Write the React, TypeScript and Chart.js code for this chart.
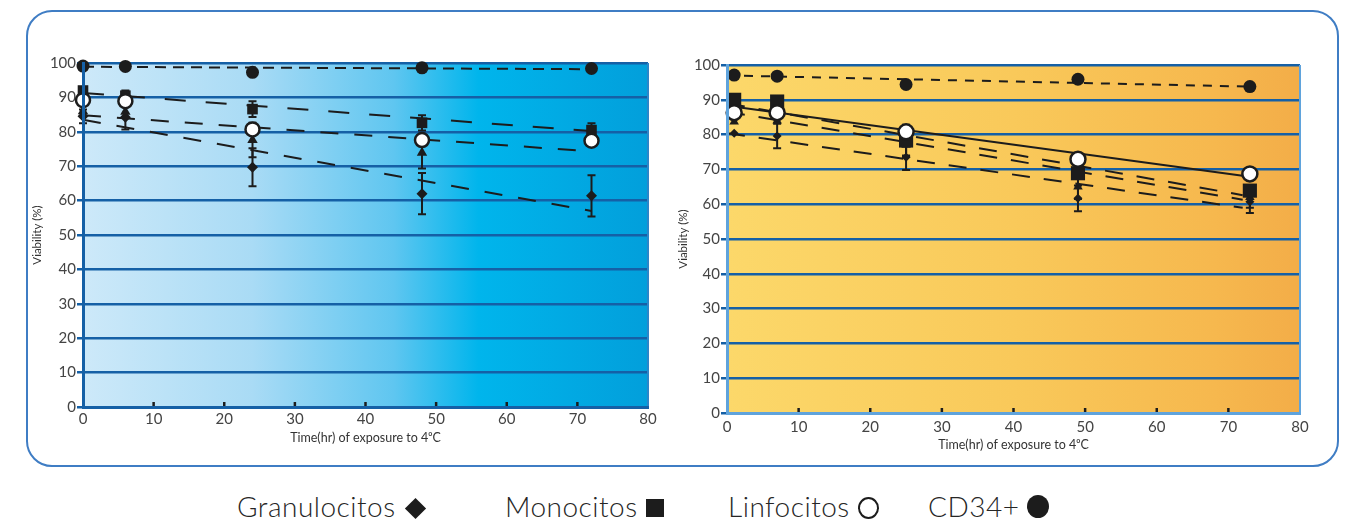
import React, { useEffect, useRef } from "react";
import { Chart, registerables } from "chart.js";
Chart.register(...registerables);

// ---------- DATA ----------
const xTicks = [0, 10, 20, 30, 40, 50, 60, 70, 80];
const yTicks = [0, 10, 20, 30, 40, 50, 60, 70, 80, 90, 100];
const xTitle = "Time(hr) of exposure to 4\u2070C";
const yTitle = "Viability (%)";

// Left panel
const leftHours = [0, 6, 24, 48, 72];
const leftGran = [84.5, 84.2, 69.7, 62, 61.4];
const leftGranErr = [2, 3.5, 5.5, 6, 6];
const leftMono = [92, 90.5, 86.6, 82.6, 80.5];
const leftMonoErr = [0, 1.5, 2.3, 2.2, 2];
const leftLinf = [89.2, 88.9, 80.7, 77.6, 77.4];
const leftTri = [86, 85.8, 77.6, 73.9, 78];
const leftTriErr = [0, 0, 5, 4.6, 0];
const leftCd34 = [99.1, 99, 97.3, 98.6, 98.4];
// trend lines: [x0, y0, x1, y1]
const leftCd34Fit = [0, 98.9, 72, 98.2];
const leftMonoFit = [0, 91.3, 72, 80.2];
const leftTriFit = [0, 84.8, 72, 74.3];
const leftGranFit = [0, 83.5, 72, 57];

// Right panel
const rightHours = [1, 7, 25, 49, 73];
const rightGran = [80.4, 79.6, 73.5, 61.7, 60.7];
const rightGranErr = [0, 3.5, 3.7, 3.7, 3.2];
const rightMono = [90, 89.5, 78.3, 68.9, 63.9];
const rightMonoErr = [0, 0, 4.5, 0, 0];
const rightLinf = [86.3, 86.3, 80.8, 72.9, 68.7];
const rightTri = [83.7, 84, 77, 65, 62];
const rightTriErr = [0, 0, 3, 3.5, 3];
const rightCd34 = [97.1, 96.8, 94.4, 95.9, 93.8];
const rightCd34Fit = [0, 97, 73, 93.8];
const rightLinfFit = [0, 88.3, 72.5, 68];
const rightMonoFit = [0, 89, 72, 62.6];
const rightTriFit = [0, 86.6, 72, 61.3];
const rightGranFit = [0, 80.4, 72, 59];

const legendLabels = ["Granulocitos", "Monocitos", "Linfocitos", "CD34+"];

// ---------- STYLE ----------
const INK = "#1c1c1c";
const DARK_BLUE = "#1560a6";
const LIGHT_BLUE = "#5fa3dc";
const TICK_FONT = "Lato, 'Noto Sans', sans-serif";

type PanelCfg = {
  hours: number[];
  gran: number[]; granErr: number[];
  mono: number[]; monoErr: number[];
  linf: number[];
  tri: number[]; triErr: number[];
  cd34: number[];
  fits: { line: number[]; dash: number[] }[];
  gradient: [number, string][];
  axisColor: string;
  edgeColor: string;
  yWidth: number; xHeight: number; padTop: number; padRight: number;
  yTitlePad: number; xTitlePad: number; xTickPad: number;
  sizes: { diamond: number; square: number; circle: number; dot: number; tri: number };
};

const pts = (xs: number[], ys: number[]) => xs.map((x, i) => ({ x, y: ys[i] }));
const fitPts = (l: number[]) => [{ x: l[0], y: l[1] }, { x: l[2], y: l[3] }];

function makeChart(canvas: HTMLCanvasElement, c: PanelCfg) {
  const bgPlugin = {
    id: "bg",
    beforeDraw(chart: any) {
      const { ctx, chartArea: a } = chart;
      const g = ctx.createLinearGradient(a.left, 0, a.right, 0);
      c.gradient.forEach(([s, col]) => g.addColorStop(s, col));
      ctx.save();
      ctx.fillStyle = g;
      ctx.fillRect(a.left, a.top, a.right - a.left, a.bottom - a.top);
      ctx.restore();
    },
  };
  const errPlugin = {
    id: "err",
    beforeDatasetsDraw(chart: any) {
      const { ctx, scales } = chart;
      const xs = scales.x, ys = scales.y;
      const groups: [number[], number[]][] = [
        [c.gran, c.granErr],
        [c.mono, c.monoErr],
        [c.tri, c.triErr],
      ];
      ctx.save();
      ctx.strokeStyle = INK;
      ctx.lineWidth = 2;
      groups.forEach(([vals, errs]) => {
        vals.forEach((v, i) => {
          const e = errs[i];
          if (!e) return;
          const px = xs.getPixelForValue(c.hours[i]);
          const y1 = ys.getPixelForValue(v + e);
          const y2 = ys.getPixelForValue(v - e);
          ctx.beginPath();
          ctx.moveTo(px, y1); ctx.lineTo(px, y2);
          ctx.moveTo(px - 4, y1); ctx.lineTo(px + 4, y1);
          ctx.moveTo(px - 4, y2); ctx.lineTo(px + 4, y2);
          ctx.stroke();
        });
      });
      ctx.restore();
    },
  };
  const framePlugin = {
    id: "frame",
    beforeDatasetsDraw(chart: any) {
      const { ctx, chartArea: a, scales } = chart;
      ctx.save();
      ctx.strokeStyle = c.edgeColor;
      ctx.lineWidth = 2;
      ctx.beginPath();
      ctx.moveTo(a.right, a.top);
      ctx.lineTo(a.right, a.bottom);
      ctx.stroke();
      ctx.strokeStyle = INK;
      ctx.lineWidth = 2.5;
      xTicks.slice(1, -1).forEach((t) => {
        const px = scales.x.getPixelForValue(t);
        ctx.beginPath();
        ctx.moveTo(px, a.bottom - 5);
        ctx.lineTo(px, a.bottom);
        ctx.stroke();
      });
      ctx.restore();
    },
  };

  const s = c.sizes;
  const marker = (label: string, data: number[], style: string, r: number, fill: string, bw: number) => ({
    type: "scatter" as const,
    label,
    data: pts(c.hours, data),
    pointStyle: style,
    pointRadius: r,
    pointBackgroundColor: fill,
    pointBorderColor: INK,
    pointBorderWidth: bw,
    showLine: false,
    clip: false,
  });
  const fitDs = (f: { line: number[]; dash: number[] }) => ({
    type: "line" as const,
    label: "fit",
    data: fitPts(f.line),
    borderColor: INK,
    borderWidth: 2,
    borderDash: f.dash,
    pointRadius: 0,
    fill: false,
    clip: false,
  });

  return new Chart(canvas, {
    type: "scatter",
    data: {
      datasets: [
        marker(legendLabels[2], c.linf, "circle", s.circle, "#ffffff", 2.5),
        marker(legendLabels[1], c.mono, "rect", s.square, INK, 0),
        marker(legendLabels[3], c.cd34, "circle", s.dot, INK, 0),
        marker("tri", c.tri, "triangle", s.tri, INK, 0),
        marker(legendLabels[0], c.gran, "rectRot", s.diamond, INK, 0),
        ...c.fits.map(fitDs),
      ] as any,
    },
    options: {
      animation: false,
      responsive: false,
      maintainAspectRatio: false,
      layout: { padding: { top: c.padTop, right: c.padRight, left: 0, bottom: 0 } },
      plugins: { legend: { display: false }, tooltip: { enabled: false } },
      scales: {
        x: {
          type: "linear",
          min: 0,
          max: 80,
          afterBuildTicks: (ax: any) => { ax.ticks = xTicks.map((v) => ({ value: v })); },
          afterFit: (ax: any) => { ax.height = c.xHeight; },
          grid: { display: false, drawTicks: false },
          border: { display: true, color: c.axisColor, width: 3, z: 1 },
          ticks: { color: "#444", font: { family: TICK_FONT, size: 15 }, padding: c.xTickPad, maxRotation: 0 },
          title: { display: true, text: xTitle, color: "#333", font: { family: TICK_FONT, size: 12.5 }, padding: { top: 0, bottom: c.xTitlePad } },
        },
        y: {
          type: "linear",
          min: 0,
          max: 100,
          afterBuildTicks: (ax: any) => { ax.ticks = yTicks.map((v) => ({ value: v })); },
          afterFit: (ax: any) => { ax.width = c.yWidth; },
          grid: { color: DARK_BLUE, lineWidth: 2.5, drawTicks: true, tickLength: 6 },
          border: { display: true, color: c.axisColor, width: 3, z: 1 },
          ticks: { color: "#444", font: { family: TICK_FONT, size: 15 }, padding: 1 },
          title: { display: true, text: yTitle, color: "#333", font: { family: TICK_FONT, size: 11.5 }, padding: { top: c.yTitlePad, bottom: 0 } },
        },
      },
    } as any,
    plugins: [bgPlugin, framePlugin, errPlugin],
  });
}

const leftCfg: PanelCfg = {
  hours: leftHours,
  gran: leftGran, granErr: leftGranErr,
  mono: leftMono, monoErr: leftMonoErr,
  linf: leftLinf,
  tri: leftTri, triErr: leftTriErr,
  cd34: leftCd34,
  fits: [
    { line: leftCd34Fit, dash: [11, 7] },
    { line: leftMonoFit, dash: [21, 20] },
    { line: leftTriFit, dash: [18, 16] },
    { line: leftGranFit, dash: [18, 16] },
  ],
  gradient: [[0, "#cde9f9"], [0.3, "#a9dbf5"], [0.55, "#5fc6f0"], [0.7, "#00b5ec"], [1, "#029fdb"]],
  axisColor: DARK_BLUE,
  edgeColor: "#2b86c8",
  yWidth: 63, xHeight: 53, padTop: 23, padRight: 32,
  yTitlePad: 10, xTitlePad: 15, xTickPad: 3,
  sizes: { diamond: 5.5, square: 7.5, circle: 7, dot: 6.5, tri: 6 },
};

const rightCfg: PanelCfg = {
  hours: rightHours,
  gran: rightGran, granErr: rightGranErr,
  mono: rightMono, monoErr: rightMonoErr,
  linf: rightLinf,
  tri: rightTri, triErr: rightTriErr,
  cd34: rightCd34,
  fits: [
    { line: rightCd34Fit, dash: [9, 8] },
    { line: rightLinfFit, dash: [] },
    { line: rightMonoFit, dash: [18, 14] },
    { line: rightTriFit, dash: [18, 14] },
    { line: rightGranFit, dash: [18, 14] },
  ],
  gradient: [[0, "#fcd86a"], [0.5, "#f9c95a"], [0.85, "#f6b84e"], [1, "#f3ad48"]],
  axisColor: LIGHT_BLUE,
  edgeColor: LIGHT_BLUE,
  yWidth: 62, xHeight: 47, padTop: 25, padRight: 35,
  yTitlePad: 11, xTitlePad: 8, xTickPad: 5,
  sizes: { diamond: 4.5, square: 10, circle: 7.5, dot: 6.5, tri: 5.5 },
};

function Panel({ cfg, left, top, width, height }: { cfg: PanelCfg; left: number; top: number; width: number; height: number }) {
  const ref = useRef<HTMLCanvasElement>(null);
  useEffect(() => {
    if (!ref.current) return;
    const ch = makeChart(ref.current, cfg);
    return () => ch.destroy();
  }, [cfg]);
  return (
    <canvas
      ref={ref}
      width={width}
      height={height}
      style={{ position: "absolute", left, top, width, height }}
    />
  );
}

const legendPos = [
  { left: 237, shape: "diamond" },
  { left: 505, shape: "square" },
  { left: 728, shape: "ring" },
  { left: 928, shape: "dot" },
];

function Shape({ kind }: { kind: string }) {
  const base: React.CSSProperties = { display: "inline-block", marginLeft: 8, verticalAlign: "baseline" };
  if (kind === "diamond")
    return <span style={{ ...base, width: 15, height: 15, background: INK, transform: "rotate(45deg)", marginLeft: 12, marginRight: 3, position: "relative", top: -1 }} />;
  if (kind === "square") return <span style={{ ...base, width: 18, height: 18, background: INK }} />;
  if (kind === "ring")
    return <span style={{ ...base, width: 17, height: 18, border: `2.5px solid ${INK}`, borderRadius: "50%", background: "#fff", position: "relative", top: 2 }} />;
  return <span style={{ ...base, width: 22, height: 23, background: INK, borderRadius: "50%", position: "relative", top: 1 }} />;
}

export default function App() {
  return (
    <div style={{ position: "absolute", left: 0, top: 0, width: 1348, height: 523, background: "#fff", overflow: "hidden" }}>
      <div
        style={{
          position: "absolute",
          left: 26,
          top: 10,
          width: 1309,
          height: 453,
          border: "2px solid #3f7dc4",
          borderRadius: 26,
        }}
      />
      <Panel cfg={leftCfg} left={20} top={40} width={660} height={420} />
      <Panel cfg={rightCfg} left={665} top={40} width={670} height={420} />
      {legendLabels.map((t, i) => (
        <div
          key={t}
          style={{
            position: "absolute",
            left: legendPos[i].left,
            top: 489,
            fontFamily: "Lato, 'Noto Sans', sans-serif",
            fontWeight: 300,
            fontSize: 28,
            letterSpacing: 0.5,
            lineHeight: "34px",
            color: "#262626",
            whiteSpace: "nowrap",
          }}
        >
          {t}
          <Shape kind={legendPos[i].shape} />
        </div>
      ))}
    </div>
  );
}
